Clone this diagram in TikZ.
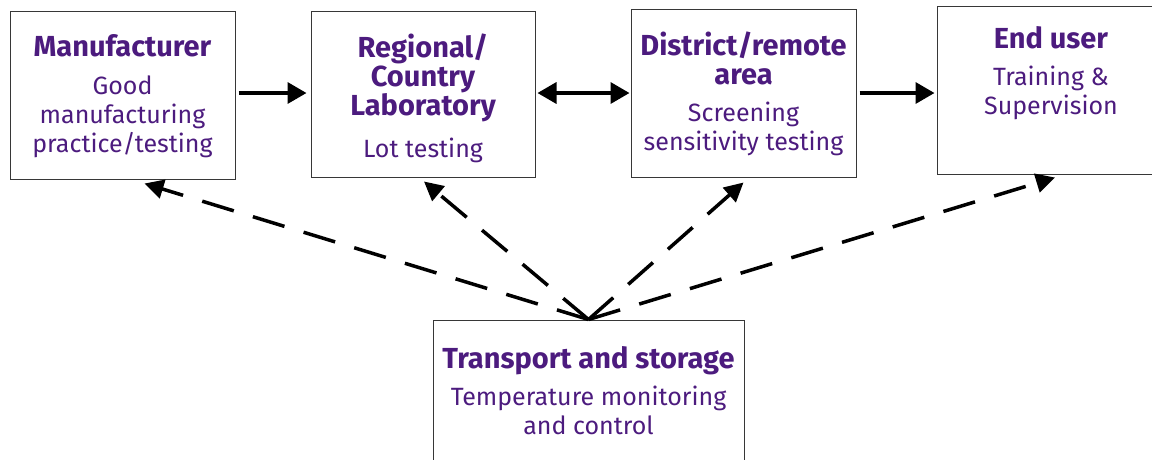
\documentclass[tikz,border=0pt]{standalone}
\usepackage{fontspec}
\setmainfont{Fira Sans}
\usepackage{tikz}
\usetikzlibrary{arrows.meta}
\usetikzlibrary{positioning}
\definecolor{stagepurple}{RGB}{76,27,126}
\definecolor{boxgray}{RGB}{55,55,55}
\newcommand{\ttl}[1]{{\fontsize{29}{30}\selectfont\bfseries #1}}
\newcommand{\txt}[1]{{\fontsize{25}{29}\selectfont #1}}

\begin{document}
\begin{tikzpicture}[x={(1pt,0)},y={(0,-1pt)},
    stagebox/.style={draw=boxgray,line width=1pt,minimum width=225pt,minimum height=168pt,inner sep=0pt},
    stagetext/.style={anchor=north,align=center,text=stagepurple,inner sep=0pt,font=\fontsize{25}{29}\selectfont},
    flow/.style={line width=3.5pt,-{Triangle[length=19pt,width=21pt]}},
    supply/.style={line width=3.5pt,dash pattern=on 33pt off 20pt,-{Triangle[length=19pt,width=19pt]}}]
        \useasboundingbox (0,0) rectangle (1152,459);
        \clip (0,0) rectangle (1152,459);
        % stages
        \node[stagebox] (mfr) at (122.5,95) {};
        \node[stagebox,minimum width=224pt,minimum height=166pt] (lab) at (423,94) {};
        \node[stagebox] (dist) at (743.5,93) {};
        \node[stagebox,minimum width=228pt] (user) at (1051,90) {};
        \node[stagebox,minimum width=311pt] (store) at (588.5,404) {};
        \node[stagetext,below=24pt of mfr.north] (mfrtxt) {\ttl{Manufacturer}\\[9pt]\txt{Good}\\\txt{manufacturing}\\\txt{practice/testing}};
        \node[stagetext,below=23pt of lab.north] (labtxt) {\ttl{Regional/}\\\ttl{Country}\\\ttl{Laboratory}\\[13pt]\txt{Lot testing}};
        \node[stagetext,below=23pt of dist.north] (disttxt) {\ttl{District/remote}\\\ttl{area}\\[8pt]\txt{Screening}\\\txt{sensitivity testing}};
        \node[stagetext,below=21pt of user.north] (usertxt) {\ttl{End user}\\[8pt]\txt{Training \&}\\\txt{Supervision}};
        \node[stagetext,below=27pt of store.north] (storetxt) {\ttl{Transport and storage}\\[8pt]\txt{Temperature monitoring}\\\txt{and control}};
        % main chain
        \draw[flow] ([xshift=3pt,yshift=2pt]mfr.east) -- ([xshift=-4pt,yshift=1pt]lab.west);
        \draw[flow,{Triangle[length=19pt,width=21pt]}-{Triangle[length=19pt,width=21pt]}] ([xshift=2pt,yshift=1pt]lab.east) -- ([xshift=-1pt]dist.west);
        \draw[flow] ([xshift=3pt]dist.east) -- ([xshift=-2pt,yshift=-3pt]user.west);
        % transport and storage
        \draw[supply] (store.north) -- ([xshift=22pt,yshift=-4pt]mfr.south);
        \draw[supply] (store.north) -- ([xshift=1pt,yshift=-4pt]lab.south);
        \draw[supply] (store.north) -- ([yshift=-5pt]dist.south);
        \draw[supply] (store.north) -- ([xshift=4pt,yshift=-3pt]user.south);
      \end{tikzpicture}
\end{document}
